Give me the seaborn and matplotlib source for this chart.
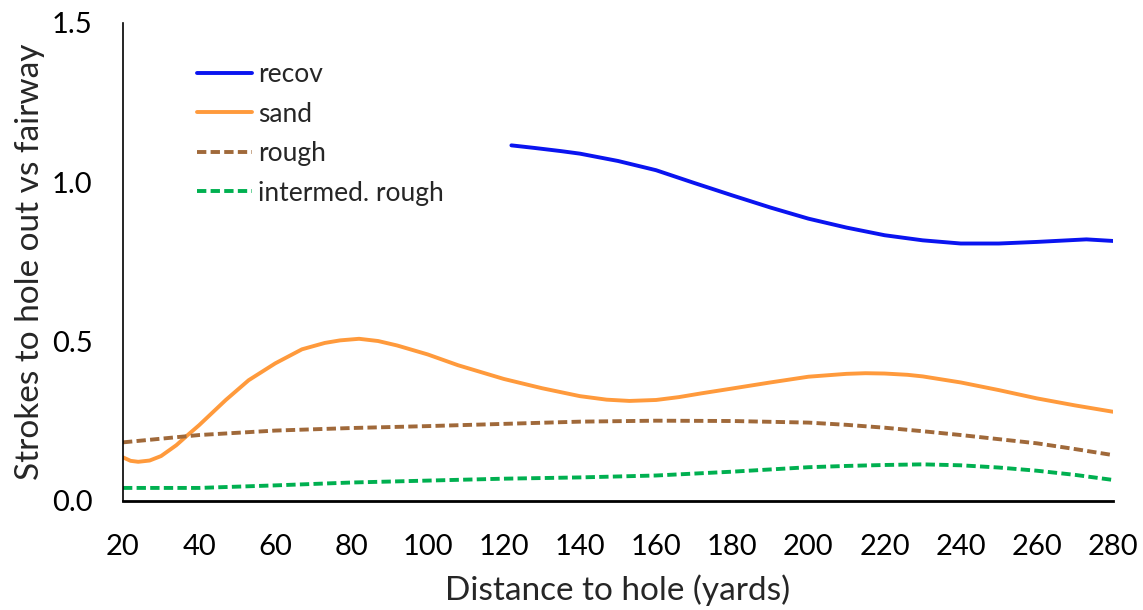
import matplotlib
matplotlib.use("Agg")
import matplotlib.pyplot as plt
import seaborn as sns
import pandas as pd

# Distance to hole (yards) and strokes-to-hole-out relative to the fairway
recov_x = [122, 128, 135, 140, 150, 160, 170, 180, 190, 200, 210, 220, 230, 240, 250, 260, 273, 280]
recov_y = [1.116, 1.108, 1.098, 1.090, 1.067, 1.038, 0.998, 0.959, 0.921, 0.886, 0.858, 0.834,
           0.818, 0.808, 0.808, 0.813, 0.821, 0.816]

sand_x = [20, 22, 24, 27, 30, 34, 37, 40, 47, 53, 60, 67, 73, 77, 82, 87, 92, 100, 108,
          120, 130, 140, 147, 153, 160, 166, 172, 180, 190, 200, 210, 215, 220, 226, 230,
          240, 250, 260, 270, 280]
sand_y = [0.137, 0.126, 0.123, 0.127, 0.141, 0.175, 0.207, 0.238, 0.317, 0.379, 0.432,
          0.476, 0.496, 0.504, 0.509, 0.502, 0.488, 0.460, 0.426, 0.383, 0.354, 0.329,
          0.318, 0.314, 0.317, 0.326, 0.338, 0.353, 0.372, 0.390, 0.399, 0.401, 0.400,
          0.396, 0.391, 0.372, 0.348, 0.322, 0.300, 0.280]

rough_x = [20, 40, 60, 80, 100, 120, 140, 160, 180, 200, 210, 220, 230, 240, 250, 260, 270, 280]
rough_y = [0.184, 0.207, 0.221, 0.229, 0.235, 0.242, 0.249, 0.252, 0.251, 0.246, 0.239,
           0.230, 0.219, 0.207, 0.194, 0.181, 0.163, 0.144]

inter_x = [20, 40, 60, 80, 100, 120, 140, 160, 180, 200, 210, 220, 230, 240, 250, 260, 270, 280]
inter_y = [0.041, 0.041, 0.049, 0.058, 0.064, 0.070, 0.074, 0.080, 0.092, 0.106, 0.110,
           0.113, 0.115, 0.112, 0.105, 0.095, 0.082, 0.066]

series = ["recov", "sand", "rough", "intermed. rough"]
colors = ["#0A14F0", "#FF9A3C", "#A0693A", "#00B050"]
dashed = [False, False, True, True]

x_ticks = list(range(20, 281, 20))
y_ticks = [0.0, 0.5, 1.0, 1.5]

frames = []
for name, xs, ys in zip(series, [recov_x, sand_x, rough_x, inter_x],
                        [recov_y, sand_y, rough_y, inter_y]):
    frames.append(pd.DataFrame({"distance": xs, "strokes": ys, "lie": name}))
df = pd.concat(frames, ignore_index=True)

sns.set_theme(style="white")
plt.rcParams["font.family"] = ["Lato", "DejaVu Sans"]

fig = plt.figure(figsize=(11.43, 6.10), dpi=100)
ax = fig.add_axes([0.1076, 0.1787, 0.8662, 0.7836])

for name, col, dsh in zip(series, colors, dashed):
    sub = df[df["lie"] == name]
    sns.lineplot(data=sub, x="distance", y="strokes", ax=ax, color=col,
                 linewidth=2.8, label=name, sort=True, estimator=None,
                 linestyle=(0, (2.4, 1.1)) if dsh else "-")
for ln in ax.get_lines():
    ln.set_solid_joinstyle("round")
    ln.set_solid_capstyle("round")

ax.set_xlim(20, 280)
ax.set_ylim(0, 1.5)
ax.set_xticks(x_ticks)
ax.set_yticks(y_ticks)
ax.set_yticklabels([f"{v:.1f}" for v in y_ticks])
ax.tick_params(axis="both", direction="in", length=10, width=1.2,
               colors="#333333", labelcolor="black", labelsize=21)
ax.tick_params(axis="x", pad=24)
ax.tick_params(axis="y", pad=22)

for side in ["top", "right"]:
    ax.spines[side].set_visible(False)
ax.spines["left"].set_color("black")
ax.spines["left"].set_linewidth(1.2)
ax.spines["bottom"].set_color("black")
ax.spines["bottom"].set_linewidth(2.0)

ax.set_xlabel("Distance to hole (yards)", fontsize=24, labelpad=10)
ax.set_ylabel("Strokes to hole out vs fairway", fontsize=24, labelpad=5)

ax.legend(loc="upper left", bbox_to_anchor=(0.0747, 0.918), frameon=False,
          fontsize=19, handlelength=2.1, handletextpad=0.2,
          labelspacing=0.55, borderaxespad=0, borderpad=0)

fig.savefig("out.png", dpi=100)
